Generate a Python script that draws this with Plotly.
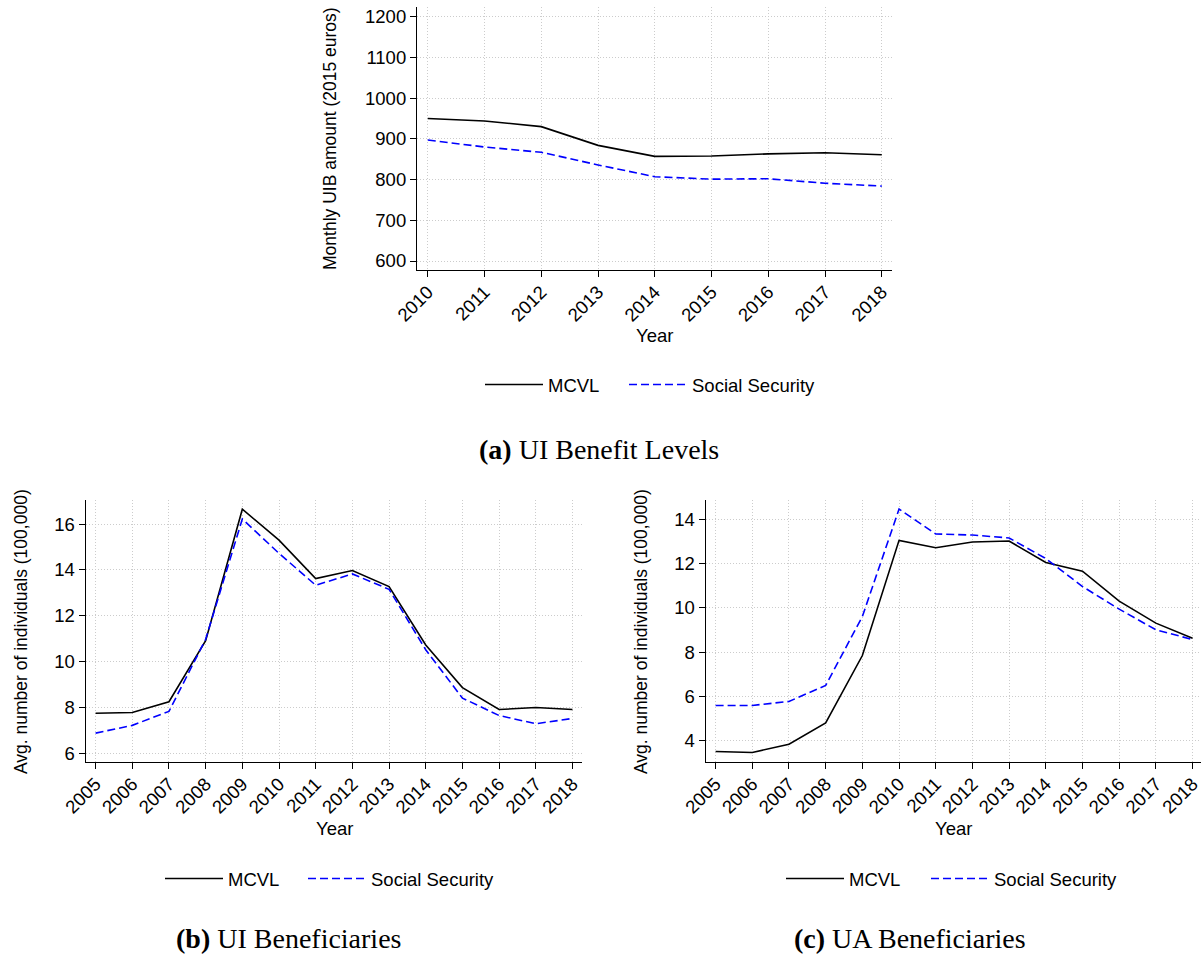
import plotly.graph_objects as go

# ---------------- data ----------------
series_names = ["MCVL", "Social Security"]

years_a = [2010, 2011, 2012, 2013, 2014, 2015, 2016, 2017, 2018]
mcvl_a = [950, 944, 930, 884, 857, 858, 863, 866, 861]
ss_a = [897, 880, 867, 836, 807, 801, 802, 791, 784]

years_bc = [2005, 2006, 2007, 2008, 2009, 2010, 2011, 2012, 2013, 2014, 2015, 2016, 2017, 2018]
mcvl_b = [7.74, 7.77, 8.24, 10.91, 16.65, 15.30, 13.62, 13.97, 13.27, 10.72, 8.86, 7.90, 7.99, 7.90]
ss_b = [6.87, 7.21, 7.82, 10.97, 16.22, 14.72, 13.33, 13.82, 13.15, 10.51, 8.40, 7.64, 7.28, 7.51]
mcvl_c = [3.52, 3.48, 3.85, 4.81, 7.85, 13.04, 12.71, 12.97, 13.01, 12.04, 11.65, 10.30, 9.31, 8.63]
ss_c = [5.60, 5.60, 5.78, 6.50, 9.61, 14.45, 13.33, 13.28, 13.15, 12.22, 10.96, 9.94, 9.01, 8.57]

yticks_a = [600, 700, 800, 900, 1000, 1100, 1200]
yticks_b = [6, 8, 10, 12, 14, 16]
yticks_c = [4, 6, 8, 10, 12, 14]

ytitle_a = "Monthly UIB amount (2015 euros)"
ytitle_bc = "Avg. number of individuals (100,000)"
xtitle = "Year"
captions = ["<b>(a)</b> UI Benefit Levels", "<b>(b)</b> UI Beneficiaries", "<b>(c)</b> UA Beneficiaries"]

# ---------------- styling ----------------
W, H = 1203, 959
SANS = "Liberation Sans, Arial, sans-serif"
SERIF = "Liberation Serif, Times New Roman, serif"
FS = 18.5
BLACK = "black"
BLUE = "#0000ff"
DASH = "8px,4px"
GRID = "#cccccc"

def px_x(p):
    return min(1.0, max(0.0, p / W))

def px_y(p):
    return min(1.0, max(0.0, 1 - p / H))

fig = go.Figure()

panels = [
    (years_a, mcvl_a, ss_a, "x", "y", ("legend", "legend2")),
    (years_bc, mcvl_b, ss_b, "x2", "y2", ("legend3", "legend4")),
    (years_bc, mcvl_c, ss_c, "x3", "y3", ("legend5", "legend6")),
]
for yrs, m, s, xa, ya, lg in panels:
    fig.add_trace(go.Scatter(x=yrs, y=m, name=series_names[0], mode="lines",
                             line=dict(color=BLACK, width=1.6),
                             xaxis=xa, yaxis=ya, legend=lg[0]))
    fig.add_trace(go.Scatter(x=yrs, y=s, name=series_names[1], mode="lines",
                             line=dict(color=BLUE, width=1.6, dash=DASH),
                             xaxis=xa, yaxis=ya, legend=lg[1]))

def xaxis(domain, rng, tickvals, anchor):
    return dict(domain=domain, range=rng, anchor=anchor, tickmode="array",
                tickvals=tickvals, ticktext=[str(v) for v in tickvals],
                tickangle=-45, showline=True, linecolor=BLACK, linewidth=1.2,
                ticks="outside", ticklen=6, tickcolor=BLACK, tickwidth=1.2,
                showgrid=True, gridcolor=GRID, griddash="1px,2px", gridwidth=1,
                zeroline=False, automargin=False, ticklabeloverflow="allow",
                ticklabelstandoff=-3,
                tickfont=dict(family=SANS, size=FS, color=BLACK),
                fixedrange=True)

def yaxis(domain, rng, tickvals, anchor):
    return dict(domain=domain, range=rng, anchor=anchor, tickmode="array",
                tickvals=tickvals, ticktext=[str(v) for v in tickvals],
                showline=True, linecolor=BLACK, linewidth=1.2,
                ticks="outside", ticklen=6, tickcolor=BLACK, tickwidth=1.2,
                showgrid=True, gridcolor=GRID, griddash="1px,2px", gridwidth=1,
                zeroline=False, automargin=False, ticklabeloverflow="allow",
                tickfont=dict(family=SANS, size=FS, color=BLACK),
                fixedrange=True)

dom_xa = [px_x(417), px_x(892)]
dom_ya = [px_y(270), px_y(7)]
dom_xb = [px_x(85.7), px_x(582)]
dom_xc = [px_x(705.7), px_x(1201)]
dom_ybc = [px_y(762), px_y(500)]

legend_common = dict(orientation="h", xanchor="left", yanchor="middle",
                     bgcolor="rgba(0,0,0,0)", borderwidth=0, itemwidth=58,
                     font=dict(family=SANS, size=FS, color=BLACK))

# legend item line-start pixel positions (x) and row centre (y)
leg_pos = [(485, 385), (629, 385), (165, 879), (308, 879), (786, 879), (931, 879)]
legends = {}
for i, (lx, ly) in enumerate(leg_pos):
    key = "legend" if i == 0 else "legend%d" % (i + 1)
    legends[key] = dict(x=px_x(lx - 5), y=px_y(ly), **legend_common)

fig.update_layout(
    template="none",
    width=W, height=H, margin=dict(l=0, r=0, t=0, b=0, autoexpand=False),
    paper_bgcolor="white", plot_bgcolor="white",
    showlegend=True,
    xaxis=xaxis(dom_xa, [2009.81, 2018.18], years_a, "y"),
    yaxis=yaxis(dom_ya, [577.9, 1223.8], yticks_a, "x"),
    xaxis2=xaxis(dom_xb, [2004.73, 2018.26], years_bc, "y2"),
    yaxis2=yaxis(dom_ybc, [5.61, 17.05], yticks_b, "x2"),
    xaxis3=xaxis(dom_xc, [2004.73, 2018.23], years_bc, "y3"),
    yaxis3=yaxis(dom_ybc, [3.05, 14.86], yticks_c, "x3"),
    **legends,
)

ann_font = dict(family=SANS, size=17.5, color=BLACK)
annotations = [
    # y-axis titles
    dict(x=px_x(330), y=px_y(139), text=ytitle_a, textangle=-90),
    dict(x=px_x(21), y=px_y(632), text=ytitle_bc, textangle=-90),
    dict(x=px_x(641), y=px_y(632), text=ytitle_bc, textangle=-90),
    # x-axis titles
    dict(x=px_x(654.5), y=px_y(335), text=xtitle),
    dict(x=px_x(334), y=px_y(828), text=xtitle),
    dict(x=px_x(953.4), y=px_y(828), text=xtitle),
]
for a in annotations:
    a.update(xref="paper", yref="paper", showarrow=False, xanchor="center",
             yanchor="middle", font=dict(family=SANS, size=FS, color=BLACK))
for i in range(3):
    annotations[i]["font"] = ann_font

cap_font = dict(family=SERIF, size=28, color=BLACK)
cap_pos = [(599, 449), (288, 938), (910, 938)]
for text, (cx, cy) in zip(captions, cap_pos):
    annotations.append(dict(x=px_x(cx), y=px_y(cy), text=text, xref="paper", yref="paper",
                            showarrow=False, xanchor="center", yanchor="middle", font=cap_font))

fig.update_layout(annotations=annotations)

# remove the default page margin so the 1203x959 figure fills the window exactly
fig.write_html("out.html", config={"displayModeBar": False},
               post_script="document.body.style.margin='0px';")
